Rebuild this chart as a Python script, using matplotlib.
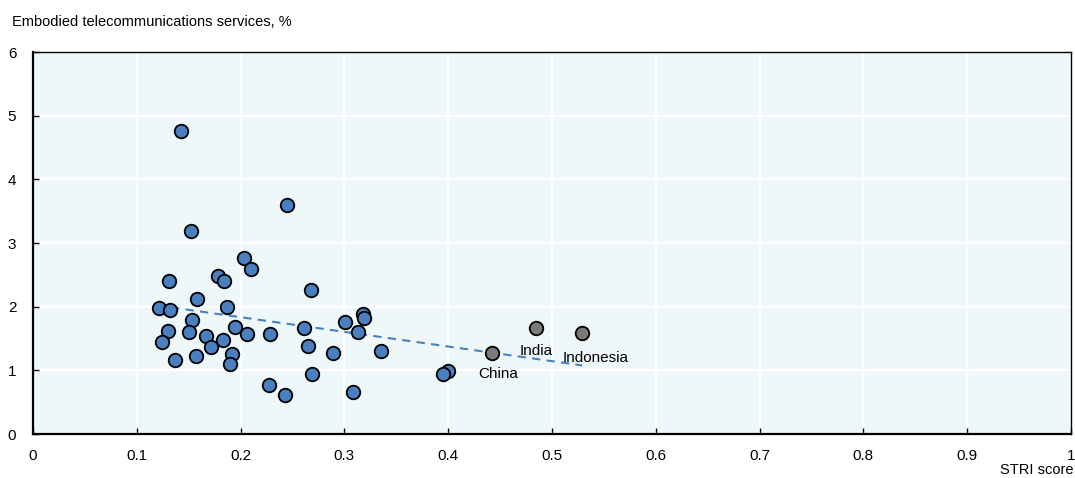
import numpy as np
import matplotlib.pyplot as plt

plt.rcParams['font.family'] = ['Liberation Sans', 'DejaVu Sans']

# OECD economies (blue markers)
stri = [0.143, 0.245, 0.152, 0.2035, 0.2096, 0.131, 0.178, 0.184, 0.268, 0.158,
        0.1215, 0.132, 0.1865, 0.1535, 0.130, 0.150, 0.124, 0.167, 0.171, 0.183,
        0.195, 0.2064, 0.228, 0.261, 0.265, 0.289, 0.3006, 0.137, 0.157, 0.1917,
        0.190, 0.269, 0.227, 0.243, 0.308, 0.3176, 0.3186, 0.3128, 0.335, 0.400,
        0.395]
telecom = [4.76, 3.60, 3.19, 2.77, 2.60, 2.40, 2.48, 2.40, 2.27, 2.12,
           1.98, 1.95, 1.99, 1.79, 1.62, 1.60, 1.45, 1.54, 1.36, 1.47,
           1.685, 1.57, 1.575, 1.67, 1.39, 1.27, 1.76, 1.16, 1.23, 1.26,
           1.10, 0.95, 0.77, 0.62, 0.66, 1.89, 1.82, 1.60, 1.31, 0.995,
           0.94]

# partner economies (grey markers, labelled)
partners = ['China', 'India', 'Indonesia']
partner_stri = [0.4426, 0.485, 0.529]
partner_telecom = [1.27, 1.67, 1.58]
label_offsets = [(4, -15), (0, -17), (10, -18)]  # points

fig = plt.figure(figsize=(10.75, 4.78), dpi=100)
ax = fig.add_axes([0.0307, 0.092, 0.9656, 0.799])
ax.set_facecolor('#EFF8F9')

ax.set_xlim(0, 1)
ax.set_ylim(0, 6)
ax.set_xticks(np.arange(0, 1.01, 0.1))
ax.set_xticklabels(['0', '0.1', '0.2', '0.3', '0.4', '0.5', '0.6', '0.7', '0.8', '0.9', '1'])
ax.set_yticks(range(0, 7))
ax.grid(True, color='white', linewidth=1.6)
ax.set_axisbelow(True)

for side in ['top', 'right']:
    ax.spines[side].set_linewidth(1.0)
for side in ['left', 'bottom']:
    ax.spines[side].set_linewidth(1.6)

ax.tick_params(axis='both', direction='in', length=4, width=1, labelsize=11,
               colors='black')
ax.tick_params(axis='y', pad=12)
ax.tick_params(axis='x', pad=11)

# trend line over all economies
all_x = np.array(stri + partner_stri)
all_y = np.array(telecom + partner_telecom)
slope, intercept = np.polyfit(all_x, all_y, 1)
tx = np.array([0.133, all_x.max()])
ax.plot(tx, slope * tx + intercept, linestyle=(0, (4, 3)), color='#4A7FC0',
        linewidth=1.5, zorder=3)

ax.scatter(stri, telecom, s=95, facecolor='#4A7FC0', edgecolor='black',
           linewidth=1.3, zorder=4)
ax.scatter(partner_stri, partner_telecom, s=95, facecolor='#7A7A7A',
           edgecolor='black', linewidth=1.3, zorder=4)

for name, x, y, off in zip(partners, partner_stri, partner_telecom, label_offsets):
    ax.annotate(name, (x, y), xytext=off, textcoords='offset points',
                ha='center', va='center', fontsize=11, zorder=5)

fig.text(12 / 1075, 1 - 22 / 478, 'Embodied telecommunications services, %',
         fontsize=10.5, va='center', ha='left')
fig.text(1073 / 1075, 1 - 470 / 478, 'STRI score', fontsize=10.5, va='center', ha='right')

fig.savefig('out.png', dpi=100)
